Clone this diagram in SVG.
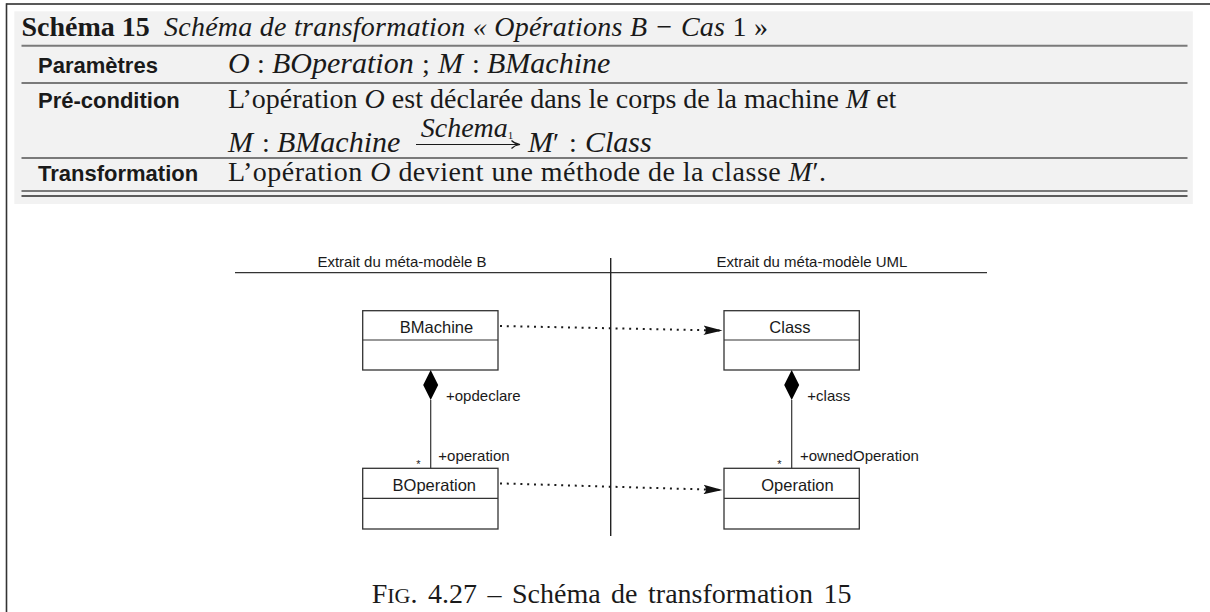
<svg xmlns="http://www.w3.org/2000/svg" width="1210" height="612" viewBox="0 0 1210 612">
  <style>
    .serif { font-family: "Liberation Serif", "Times New Roman", serif; fill: #1a1a1a; font-size: 28px; }
    .it { font-style: italic; }
    .mi { font-style: italic; font-size: 30px; }
    .lbl { font-family: "Liberation Sans", Arial, sans-serif; font-weight: bold; font-size: 22px; fill: #1a1a1a; }
    .sans { font-family: "Liberation Sans", Arial, sans-serif; fill: #1a1a1a; }
    .rule { stroke: #7a7a7a; stroke-width: 2; }
    .box { fill: #ffffff; stroke: #333333; stroke-width: 1.3; }
    .assoc { stroke: #333333; stroke-width: 1.2; fill: none; }
    .dep { stroke: #1a1a1a; stroke-width: 2; stroke-dasharray: 2 4.8; fill: none; }
  </style>
  <defs>
    <marker id="arr" viewBox="0 0 20 10" refX="19" refY="5" markerWidth="20" markerHeight="10" markerUnits="userSpaceOnUse" orient="auto">
      <path d="M0,0.3 L19,5 L0,9.7 Q5,5 0,0.3 Z" fill="#111111"/>
    </marker>
  </defs>

  <rect x="0" y="0" width="1210" height="612" fill="#ffffff"/>

  <g id="table">
    <rect x="14.3" y="11.3" width="1178.5" height="192.7" fill="#f2f2f2"/>
    <line x1="6.5" y1="4" x2="1210" y2="4" stroke="#222222" stroke-width="1.6"/>
    <line x1="6.5" y1="3.2" x2="6.5" y2="612" stroke="#333333" stroke-width="1.6"/>
    <line class="rule" x1="21.5" y1="45.7" x2="1187.5" y2="45.7"/>
    <line class="rule" x1="21.5" y1="83" x2="1187.5" y2="83"/>
    <line class="rule" x1="21.5" y1="158" x2="1187.5" y2="158"/>
    <line class="rule" x1="21.5" y1="191" x2="1187.5" y2="191"/>
    <line x1="21.5" y1="196" x2="1187.5" y2="196" stroke="#2a2a2a" stroke-width="1.4"/>

    <text class="serif" x="21.5" y="36" font-size="27" font-weight="bold">Schéma 15</text>
    <text class="serif" x="164" y="36" font-size="28" textLength="604" lengthAdjust="spacing"><tspan class="it">Schéma de transformation « Opérations B − Cas </tspan><tspan>1 »</tspan></text>

    <text class="lbl" x="38" y="73">Paramètres</text>
    <text class="serif" y="73"><tspan class="mi" x="228">O</tspan><tspan x="257">:</tspan><tspan class="mi" x="272">BOperation</tspan><tspan x="422">;</tspan><tspan class="mi" x="438">M</tspan><tspan x="472">:</tspan><tspan class="mi" x="487">BMachine</tspan></text>

    <text class="lbl" x="38" y="108">Pré-condition</text>
    <text class="serif" x="228" y="108">L’opération <tspan class="it">O</tspan> est déclarée dans le corps de la machine <tspan class="it">M</tspan> et</text>
    <text class="serif" y="152"><tspan class="mi" x="228">M</tspan><tspan x="262">:</tspan><tspan class="mi" x="277">BMachine</tspan></text>
    <text class="serif it" x="467" y="136.5" font-size="16" text-anchor="middle">Schema<tspan font-style="normal" font-size="11" dy="2.5">1</tspan></text>
    <line x1="416" y1="144.5" x2="518" y2="144.5" stroke="#1a1a1a" stroke-width="1.2"/>
    <path d="M511.5,140.5 Q514.5,143.7 520,144.5 Q514.5,145.3 511.5,148.5" stroke="#1a1a1a" stroke-width="1.2" fill="none"/>
    <text class="serif" y="152"><tspan class="mi" x="528">M</tspan><tspan x="553">′</tspan><tspan x="569">:</tspan><tspan class="mi" x="585">Class</tspan></text>

    <text class="lbl" x="38" y="181">Transformation</text>
    <text class="serif" x="228" y="181" textLength="598" lengthAdjust="spacing">L’opération <tspan class="it">O</tspan> devient une méthode de la classe <tspan class="it">M</tspan>′.</text>
  </g>

  <g id="lanes">
    <line x1="235" y1="272.7" x2="987" y2="272.7" stroke="#333333" stroke-width="1.2"/>
    <line x1="610.7" y1="258" x2="610.7" y2="536" stroke="#222222" stroke-width="1.4"/>
    <text class="sans" x="402" y="266.7" font-size="15" text-anchor="middle">Extrait du méta-modèle B</text>
    <text class="sans" x="812" y="266.7" font-size="15" text-anchor="middle">Extrait du méta-modèle UML</text>
  </g>

  <g id="BMachine">
    <rect class="box" x="362.7" y="310.7" width="135.3" height="59.3"/>
    <line class="assoc" x1="362.7" y1="340" x2="498" y2="340"/>
    <text class="sans" x="436.5" y="332.7" font-size="16.5" text-anchor="middle">BMachine</text>
  </g>

  <g id="Class">
    <rect class="box" x="724" y="310.7" width="135.3" height="59.3"/>
    <line class="assoc" x1="724" y1="340" x2="859.3" y2="340"/>
    <text class="sans" x="790" y="332.7" font-size="16.5" text-anchor="middle">Class</text>
  </g>

  <g id="BOperation">
    <rect class="box" x="362.7" y="468.3" width="135.3" height="60.7"/>
    <line class="assoc" x1="362.7" y1="498.3" x2="498" y2="498.3"/>
    <text class="sans" x="434.3" y="491" font-size="16.5" text-anchor="middle">BOperation</text>
  </g>

  <g id="Operation">
    <rect class="box" x="724" y="468.3" width="135.3" height="60.7"/>
    <line class="assoc" x1="724" y1="498.3" x2="859.3" y2="498.3"/>
    <text class="sans" x="797.5" y="491" font-size="16.5" text-anchor="middle">Operation</text>
  </g>

  <g id="connectors">
    <path class="dep" d="M500,326 L722.5,330.6" marker-end="url(#arr)"/>
    <path class="dep" d="M500,483.4 L722.5,490" marker-end="url(#arr)"/>

    <line class="assoc" x1="430.7" y1="400" x2="430.7" y2="468.3"/>
    <polygon points="430.7,370 438.2,385 430.7,400 423.2,385" fill="#000000"/>
    <text class="sans" x="446" y="400.7" font-size="15">+opdeclare</text>
    <text class="sans" x="438.3" y="461" font-size="15">+operation</text>
    <text class="sans" x="418.5" y="467.5" font-size="11" text-anchor="middle">*</text>

    <line class="assoc" x1="791.7" y1="400" x2="791.7" y2="468.3"/>
    <polygon points="791.7,370 799.2,385 791.7,400 784.2,385" fill="#000000"/>
    <text class="sans" x="807.3" y="400.7" font-size="15">+class</text>
    <text class="sans" x="800" y="461" font-size="15">+ownedOperation</text>
    <text class="sans" x="779.3" y="467.5" font-size="11" text-anchor="middle">*</text>
  </g>

  <text class="serif" x="371.7" y="602.7" font-size="28" word-spacing="3.5">F<tspan font-size="22">IG</tspan>. 4.27 – Schéma de transformation 15</text>
</svg>
